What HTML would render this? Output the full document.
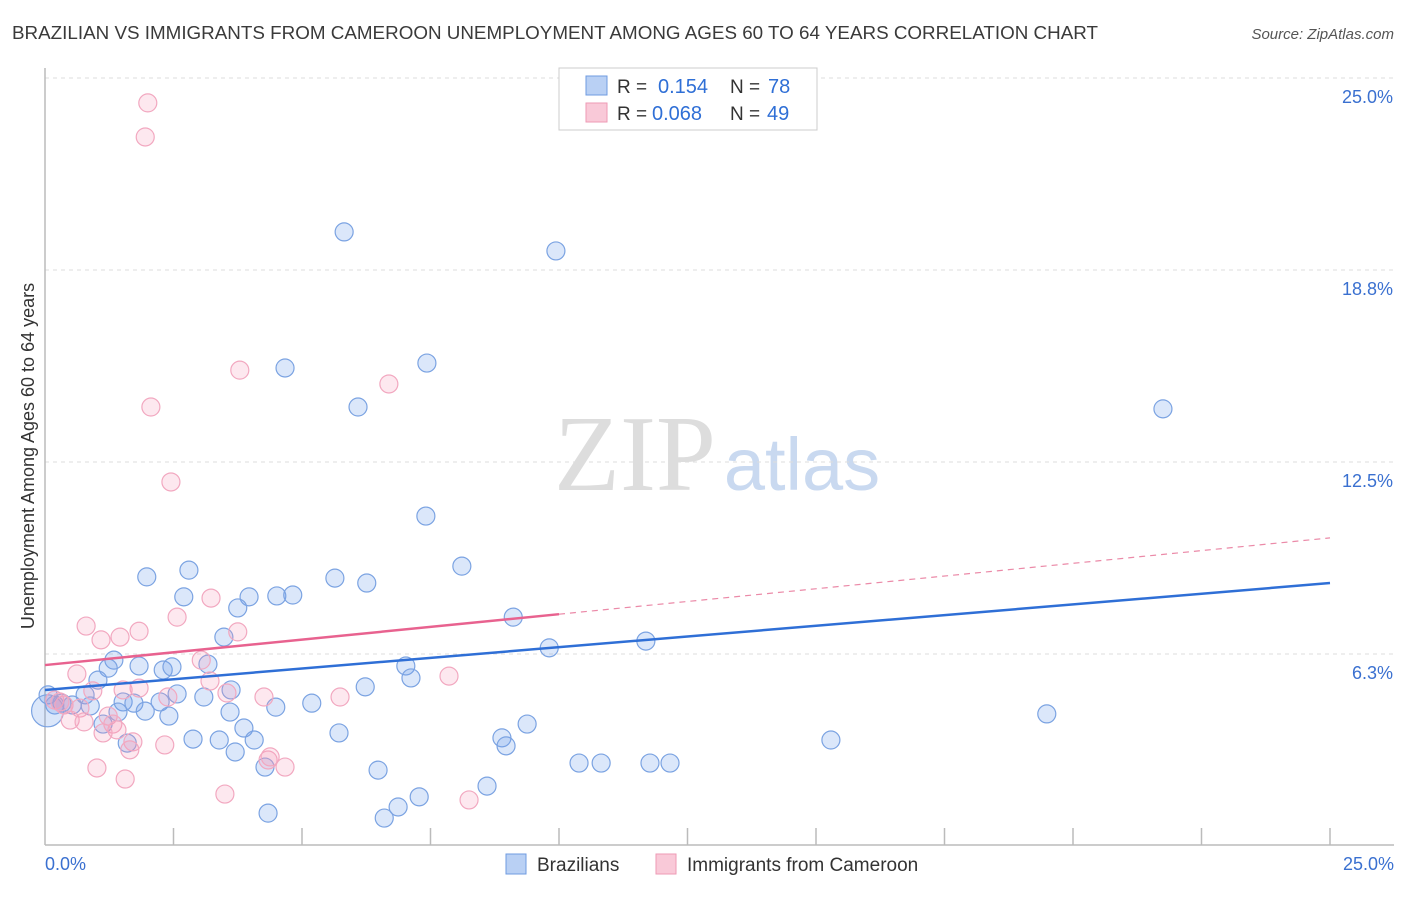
<!DOCTYPE html>
<html><head><meta charset="utf-8"><style>
body{margin:0;background:#fff;font-family:"Liberation Sans",sans-serif;}
</style></head><body>
<svg id="chart" width="1406" height="892" xmlns="http://www.w3.org/2000/svg" font-family="Liberation Sans, sans-serif">
<text x="12" y="39" font-size="18" fill="#3a3a3a" textLength="1086" lengthAdjust="spacingAndGlyphs">BRAZILIAN VS IMMIGRANTS FROM CAMEROON UNEMPLOYMENT AMONG AGES 60 TO 64 YEARS CORRELATION CHART</text>
<text x="1394" y="39" font-size="15" fill="#555" font-style="italic" text-anchor="end">Source: ZipAtlas.com</text>
<g>
<text x="635" y="490" font-size="108" fill="#ddd" font-family="Liberation Serif, serif" text-anchor="middle">ZIP</text>
<text x="802" y="490" font-size="74" fill="#c9d9f0" text-anchor="middle">atlas</text>
</g>
<g id="grid"></g>
<g id="axes"></g>
<g id="pts"></g>
<g id="trends"></g>
<text transform="translate(34,456) rotate(-90)" font-size="18" fill="#333" text-anchor="middle">Unemployment Among Ages 60 to 64 years</text>
<g>
<rect x="559" y="68" width="258" height="62" fill="#fff" stroke="#ccc"/>
<rect x="586" y="76" width="21" height="19" fill="#b9d0f4" stroke="#6f9be0"/>
<rect x="586" y="103" width="21" height="19" fill="#f9c9d8" stroke="#ee9ab5"/>
<text x="617" y="93" font-size="19" fill="#333">R =</text>
<text x="658" y="93" font-size="20" fill="#2f6fd6">0.154</text>
<text x="730" y="93" font-size="19" fill="#333">N =</text>
<text x="768" y="93" font-size="20" fill="#2f6fd6">78</text>
<text x="617" y="120" font-size="19" fill="#333">R =</text>
<text x="652" y="120" font-size="20" fill="#2f6fd6">0.068</text>
<text x="730" y="120" font-size="19" fill="#333">N =</text>
<text x="767" y="120" font-size="20" fill="#2f6fd6">49</text>
</g>
<g>
<rect x="506" y="854" width="20" height="20" fill="#b9d0f4" stroke="#6f9be0"/>
<text x="537" y="871" font-size="19" fill="#333">Brazilians</text>
<rect x="656" y="854" width="20" height="20" fill="#f9c9d8" stroke="#ee9ab5"/>
<text x="687" y="871" font-size="19" fill="#333">Immigrants from Cameroon</text>
</g>
</svg>
<script>
const yTicks=[6.25,12.5,18.75,25];
const yTickLabels=["6.3%","12.5%","18.8%","25.0%"];
const xTickCount=10;
const blueX=[5.82,9.94,4.67,7.43,6.09,21.75,7.41,8.11,1.98,2.80,5.64,6.26,2.70,3.97,4.51,4.82,3.75,9.11,3.48,11.69,9.81,1.34,1.23,1.83,2.30,2.47,3.17,1.03,7.02,7.12,6.23,0.06,0.78,2.57,3.09,3.62,5.19,4.49,1.52,1.73,2.24,1.95,2.41,1.42,3.60,19.49,0.19,0.33,0.53,0.88,1.13,3.87,9.38,5.72,2.88,3.39,4.07,1.60,15.29,8.89,8.97,3.70,4.28,6.48,10.39,10.82,11.77,12.16,8.60,7.28,6.87,6.60,4.34,0.05];
const blueY=[19.99,19.37,15.56,15.72,14.29,14.23,10.74,9.11,8.76,8.98,8.72,8.56,8.11,8.11,8.14,8.17,7.75,7.45,6.80,6.67,6.45,6.05,5.79,5.86,5.73,5.83,5.92,5.40,5.86,5.47,5.18,4.92,4.92,4.95,4.85,5.08,4.65,4.52,4.69,4.65,4.69,4.39,4.23,4.36,4.36,4.30,4.59,4.65,4.59,4.56,3.97,3.84,3.97,3.68,3.48,3.45,3.45,3.35,3.45,3.52,3.26,3.06,2.57,2.47,2.70,2.70,2.70,2.70,1.95,1.60,1.27,0.91,1.07,4.4];
const pinkX=[2.00,1.95,3.79,6.69,2.06,2.45,3.23,2.57,0.80,1.83,3.75,1.09,1.46,3.04,7.86,0.62,1.83,1.52,2.39,3.21,3.54,4.26,5.74,0.93,0.19,0.37,0.68,0.49,0.76,1.23,1.32,1.40,1.13,1.71,1.65,2.33,1.01,1.56,4.34,4.38,4.67,3.50,8.25,0.29];
const pinkY=[24.19,23.08,15.49,15.04,14.29,11.85,8.07,7.45,7.16,6.99,6.97,6.71,6.80,6.05,5.53,5.60,5.14,5.08,4.85,5.37,4.98,4.85,4.85,5.05,4.75,4.59,4.49,4.10,4.04,4.23,3.97,3.78,3.68,3.39,3.13,3.29,2.54,2.18,2.80,2.90,2.57,1.69,1.50,4.69];
const blueTrend=[5.08,8.56];
const pinkTrend=[5.89,10.03];
const pinkSolidEnd=10;

const NS="http://www.w3.org/2000/svg";
const X0=45,X1=1330,Y0=846,Y1=78;
const sx=v=>X0+v/25*(X1-X0);
const sy=v=>Y0-v/25*(Y0-Y1);
function mk(tag,attrs,parent){const e=document.createElementNS(NS,tag);for(const k in attrs)e.setAttribute(k,attrs[k]);document.getElementById(parent).appendChild(e);return e;}
yTicks.forEach((t,i)=>{
 const l=mk('line',{x1:X0,x2:1394,y1:sy(t),y2:sy(t),stroke:'#ddd','stroke-dasharray':'4,4'},'grid');
 
 
 const tx=mk('text',{x:1393,y:sy(t)+25,'font-size':18,fill:'#3a70d0','text-anchor':'end'},'grid');
 tx.textContent=yTickLabels[i];
 
 
});
const ax=mk('line',{x1:X0,x2:1394,y1:845,y2:845,stroke:'#bbb','stroke-width':1.5},'axes');


const ay=mk('line',{x1:X0,x2:X0,y1:68,y2:845,stroke:'#bbb','stroke-width':1.5},'axes');


for(let i=1;i<=xTickCount;i++){
 const v=25*i/xTickCount;
 const t=mk('line',{x1:sx(v),x2:sx(v),y1:828,y2:845,stroke:'#bbb','stroke-width':1.5},'axes');
 
 
}
const xl0=mk('text',{x:45,y:870,'font-size':18,fill:'#3a70d0'},'axes');xl0.textContent='0.0%';


const xl1=mk('text',{x:1394,y:870,'font-size':18,fill:'#3a70d0','text-anchor':'end'},'axes');xl1.textContent='25.0%';


blueX.forEach((x,i)=>{
 const c=mk('circle',{cx:sx(x),cy:sy(blueY[i]),r:i===blueX.length-1?16:9,fill:'rgba(110,160,235,0.25)',stroke:'#7ba3e2','stroke-width':1.2},'pts');
 
 
});
pinkX.forEach((x,i)=>{
 const c=mk('circle',{cx:sx(x),cy:sy(pinkY[i]),r:9,fill:'rgba(245,150,180,0.22)',stroke:'#f2a8c0','stroke-width':1.2},'pts');
 
 
});
const bt=mk('line',{x1:sx(0),y1:sy(blueTrend[0]),x2:sx(25),y2:sy(blueTrend[1]),stroke:'#2f6fd6','stroke-width':2.5},'trends');


const pAt=v=>pinkTrend[0]+(pinkTrend[1]-pinkTrend[0])*v/25;
const pt=mk('line',{x1:sx(0),y1:sy(pinkTrend[0]),x2:sx(pinkSolidEnd),y2:sy(pAt(pinkSolidEnd)),stroke:'#e8628f','stroke-width':2.5},'trends');


const pd=mk('line',{x1:sx(pinkSolidEnd),y1:sy(pAt(pinkSolidEnd)),x2:sx(25),y2:sy(pinkTrend[1]),stroke:'#eb8aa8','stroke-width':1.2,'stroke-dasharray':'6,5'},'trends');


</script>
</body></html>
